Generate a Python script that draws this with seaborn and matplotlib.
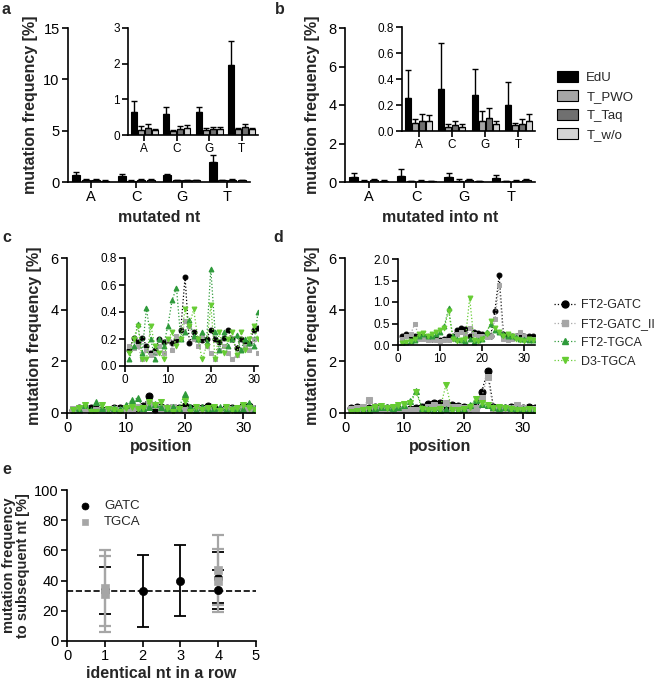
import numpy as np
import pandas as pd
import seaborn as sns
import matplotlib.pyplot as plt
from matplotlib.patches import Patch
from matplotlib.lines import Line2D

sns.set_style('ticks')
plt.rcParams['font.family'] = ['Liberation Sans', 'DejaVu Sans']
plt.rcParams['axes.linewidth'] = 1.2
plt.rcParams['xtick.major.width'] = 1.2
plt.rcParams['ytick.major.width'] = 1.2
plt.rcParams['xtick.major.size'] = 4
plt.rcParams['ytick.major.size'] = 4
plt.rcParams['xtick.color'] = 'black'
plt.rcParams['ytick.color'] = 'black'
plt.rcParams['axes.edgecolor'] = 'black'

# ---- panel a / b data ----
nts = ['A', 'C', 'G', 'T']
samples = ['EdU', 'T_PWO', 'T_Taq', 'T_w/o']
bar_colors = ['#000000', '#a6a6a6', '#707070', '#d4d4d4']

a_edu = [0.65, 0.58, 0.65, 1.95]
a_pwo = [0.15, 0.12, 0.15, 0.16]
a_taq = [0.20, 0.18, 0.16, 0.22]
a_wo = [0.14, 0.20, 0.16, 0.16]
a_edu_err = [0.30, 0.20, 0.13, 0.68]
a_pwo_err = [0.10, 0.03, 0.05, 0.05]
a_taq_err = [0.10, 0.07, 0.07, 0.08]
a_wo_err = [0.03, 0.07, 0.07, 0.05]

b_edu = [0.255, 0.32, 0.28, 0.20]
b_pwo = [0.065, 0.03, 0.075, 0.045]
b_taq = [0.08, 0.045, 0.10, 0.055]
b_wo = [0.075, 0.03, 0.055, 0.08]
b_edu_err = [0.215, 0.36, 0.20, 0.18]
b_pwo_err = [0.03, 0.025, 0.08, 0.02]
b_taq_err = [0.05, 0.035, 0.08, 0.035]
b_wo_err = [0.05, 0.025, 0.02, 0.05]

# ---- panel c / d data ----
positions = list(range(1, 33))
series = ['FT2-GATC', 'FT2-GATC_II', 'FT2-TGCA', 'D3-TGCA']
line_colors = ['#000000', '#a6a6a6', '#2e9a3a', '#66cc33']
line_markers = ['o', 's', '^', 'v']

c_gatc = [0.12, 0.21, 0.18, 0.21, 0.15, 0.10, 0.12, 0.20, 0.18, 0.19, 0.17, 0.19, 0.27, 0.66, 0.17, 0.25,
          0.20, 0.19, 0.20, 0.27, 0.20, 0.18, 0.21, 0.27, 0.20, 0.13, 0.20, 0.18, 0.17, 0.27, 0.28, 0.15]
c_gatc2 = [0.15, 0.13, 0.15, 0.05, 0.12, 0.08, 0.10, 0.15, 0.10, 0.20, 0.12, 0.22, 0.20, 0.33, 0.30, 0.20,
           0.15, 0.22, 0.15, 0.10, 0.05, 0.12, 0.15, 0.10, 0.05, 0.08, 0.12, 0.15, 0.12, 0.20, 0.10, 0.15]
c_ft2tgca = [0.05, 0.15, 0.31, 0.10, 0.43, 0.20, 0.05, 0.20, 0.15, 0.30, 0.49, 0.58, 0.20, 0.25, 0.34, 0.22,
             0.20, 0.25, 0.18, 0.72, 0.25, 0.12, 0.25, 0.15, 0.20, 0.23, 0.12, 0.20, 0.17, 0.15, 0.40, 0.15]
c_d3tgca = [0.10, 0.20, 0.30, 0.05, 0.05, 0.30, 0.15, 0.10, 0.05, 0.20, 0.25, 0.15, 0.20, 0.42, 0.30, 0.42,
            0.20, 0.05, 0.15, 0.45, 0.05, 0.25, 0.10, 0.20, 0.25, 0.08, 0.25, 0.12, 0.20, 0.30, 0.20, 0.12]

d_gatc = [0.20, 0.25, 0.20, 0.20, 0.22, 0.20, 0.18, 0.15, 0.15, 0.12, 0.15, 0.20, 0.22, 0.35, 0.40, 0.38,
          0.20, 0.30, 0.28, 0.25, 0.20, 0.22, 0.80, 1.62, 0.25, 0.20, 0.20, 0.22, 0.25, 0.20, 0.22, 0.20]
d_gatc2 = [0.15, 0.20, 0.25, 0.50, 0.15, 0.15, 0.12, 0.15, 0.12, 0.10, 0.12, 0.12, 0.15, 0.25, 0.30, 0.25,
           0.40, 0.25, 0.22, 0.20, 0.18, 0.20, 0.60, 1.40, 0.15, 0.12, 0.15, 0.20, 0.30, 0.20, 0.15, 0.15]
d_ft2tgca = [0.05, 0.08, 0.10, 0.12, 0.20, 0.25, 0.22, 0.20, 0.25, 0.30, 0.45, 0.85, 0.20, 0.15, 0.12, 0.10,
             0.15, 0.08, 0.12, 0.15, 0.30, 0.50, 0.35, 0.30, 0.25, 0.20, 0.22, 0.18, 0.15, 0.15, 0.12, 0.12]
d_d3tgca = [0.05, 0.08, 0.10, 0.15, 0.25, 0.28, 0.20, 0.25, 0.30, 0.35, 0.40, 0.80, 0.15, 0.10, 0.12, 0.15,
            1.10, 0.12, 0.10, 0.15, 0.25, 0.55, 0.40, 0.30, 0.20, 0.25, 0.20, 0.15, 0.12, 0.10, 0.15, 0.12]

# ---- panel e data ----
e_gatc_x = [1, 1, 2, 3, 4, 4]
e_gatc_y = [33, 33.5, 33, 40, 34, 42]
e_gatc_err = [23, 15.5, 24, 23.5, 13, 17]
e_tgca_x = [1, 1, 4, 4]
e_tgca_y = [35, 31, 47, 40]
e_tgca_err = [25, 25, 23, 21]
chance_level = 33.3

W, H = 658, 682
fig = plt.figure(figsize=(W / 100, H / 100), dpi=100)


def box(x0, y0, x1, y1):
    return [x0 / W, 1 - y1 / H, (x1 - x0) / W, (y1 - y0) / H]


def bar_panel(ax, vals, errs, ylim, yticks, fs, fmt=None):
    df = pd.DataFrame({'nt': nts * 4,
                       'sample': np.repeat(samples, 4),
                       'value': np.concatenate(vals)})
    sns.barplot(data=df, x='nt', y='value', hue='sample', palette=bar_colors,
                edgecolor='black', linewidth=0.8, errorbar=None, gap=0.15,
                width=0.85, ax=ax, legend=False)
    for cont, err in zip(ax.containers, errs):
        xs = [b.get_x() + b.get_width() / 2 for b in cont]
        hs = [b.get_height() for b in cont]
        ax.errorbar(xs, hs, yerr=[np.zeros(4), err], fmt='none', ecolor='black',
                    elinewidth=1.0, capsize=2, capthick=1.0, zorder=1)
    ax.set_xlim(-0.5, 3.5)
    ax.set_ylim(*ylim)
    ax.set_yticks(yticks)
    if fmt:
        ax.set_yticklabels([fmt % t for t in yticks])
    ax.set_xlabel('')
    ax.set_ylabel('')
    ax.tick_params(labelsize=fs, pad=2)
    sns.despine(ax=ax)


def line_panel(ax, data, ylim, yticks, xlim, fs, ms, fmt=None):
    for vals, col, mk in zip(data, line_colors, line_markers):
        sns.lineplot(x=positions, y=vals, color=col, marker=mk, markersize=ms,
                     markeredgecolor=col, linestyle=':', linewidth=0.9, ax=ax)
    ax.set_xlim(*xlim)
    ax.set_ylim(*ylim)
    ax.set_xticks([0, 10, 20, 30])
    ax.set_yticks(yticks)
    if fmt:
        ax.set_yticklabels([fmt % t for t in yticks])
    ax.set_xlabel('')
    ax.set_ylabel('')
    ax.tick_params(labelsize=fs, pad=2)
    sns.despine(ax=ax)


lab_kw = dict(fontsize=11.5, fontweight='bold')
main_fs = 10.5
inset_fs = 8.5

# panel a
ax_a = fig.add_axes(box(68, 28, 250, 182))
bar_panel(ax_a, [a_edu, a_pwo, a_taq, a_wo], [a_edu_err, a_pwo_err, a_taq_err, a_wo_err],
          (0, 15), [0, 5, 10, 15], main_fs)
ax_a.set_xlabel('mutated nt', labelpad=4, **lab_kw)
ax_a.set_ylabel('mutation frequency [%]', labelpad=4, **lab_kw)
ax_ai = fig.add_axes(box(128, 28, 258, 135))
bar_panel(ax_ai, [a_edu, a_pwo, a_taq, a_wo], [a_edu_err, a_pwo_err, a_taq_err, a_wo_err],
          (0, 3), [0, 1, 2, 3], inset_fs)

# panel b
ax_b = fig.add_axes(box(345, 28, 535, 182))
bar_panel(ax_b, [b_edu, b_pwo, b_taq, b_wo], [b_edu_err, b_pwo_err, b_taq_err, b_wo_err],
          (0, 8), [0, 2, 4, 6, 8], main_fs)
ax_b.set_xlabel('mutated into nt', labelpad=4, **lab_kw)
ax_b.set_ylabel('mutation frequency [%]', labelpad=6, **lab_kw)
ax_bi = fig.add_axes(box(402, 27, 535, 131))
bar_panel(ax_bi, [b_edu, b_pwo, b_taq, b_wo], [b_edu_err, b_pwo_err, b_taq_err, b_wo_err],
          (0, 0.8), [0, 0.2, 0.4, 0.6, 0.8], inset_fs, fmt='%.1f')

bar_handles = [Patch(facecolor=c, edgecolor='black', linewidth=0.8) for c in bar_colors]
fig.legend(bar_handles, samples, loc='upper left', bbox_to_anchor=(552 / W, 1 - 66 / H),
           frameon=False, fontsize=9.5, handlelength=1.6, handleheight=0.9,
           labelspacing=0.45, handletextpad=0.6, borderaxespad=0)

# panel c
ax_c = fig.add_axes(box(67, 258, 255, 413))
line_panel(ax_c, [c_gatc, c_gatc2, c_ft2tgca, c_d3tgca], (0, 6), [0, 2, 4, 6], (0, 32), main_fs, 5)
ax_c.set_xlabel('position', labelpad=3, **lab_kw)
ax_c.set_ylabel('mutation frequency [%]', labelpad=6, **lab_kw)
ax_ci = fig.add_axes(box(125, 258, 258, 366))
line_panel(ax_ci, [c_gatc, c_gatc2, c_ft2tgca, c_d3tgca], (0, 0.8), [0, 0.2, 0.4, 0.6, 0.8],
           (0, 31), inset_fs, 3.5, fmt='%.1f')

# panel d
ax_d = fig.add_axes(box(345, 258, 535, 413))
line_panel(ax_d, [d_gatc, d_gatc2, d_ft2tgca, d_d3tgca], (0, 6), [0, 2, 4, 6], (0, 32), main_fs, 5)
ax_d.set_xlabel('position', labelpad=3, **lab_kw)
ax_d.set_ylabel('mutation frequency [%]', labelpad=6, **lab_kw)
ax_di = fig.add_axes(box(398, 259, 535, 345))
line_panel(ax_di, [d_gatc, d_gatc2, d_ft2tgca, d_d3tgca], (0, 2.0), [0, 0.5, 1.0, 1.5, 2.0],
           (0, 32.5), inset_fs, 3.5, fmt='%.1f')

line_handles = [Line2D([], [], color=c, marker=m, linestyle=':', linewidth=0.9, markersize=5)
                for c, m in zip(line_colors, line_markers)]
fig.legend(line_handles, series, loc='upper left', bbox_to_anchor=(549 / W, 1 - 294 / H),
           frameon=False, fontsize=9, handlelength=1.7, labelspacing=0.55,
           handletextpad=0.5, borderaxespad=0)

# panel e
ax_e = fig.add_axes(box(67, 490, 256, 641))
ax_e.errorbar(e_gatc_x, e_gatc_y, yerr=e_gatc_err, fmt='none', ecolor='black',
              elinewidth=1.3, capsize=4, capthick=1.3, zorder=2)
ax_e.errorbar(e_tgca_x, e_tgca_y, yerr=e_tgca_err, fmt='none', ecolor='#a6a6a6',
              elinewidth=1.6, capsize=4, capthick=1.6, zorder=3)
sns.scatterplot(x=e_gatc_x, y=e_gatc_y, color='black', marker='o', s=35, edgecolor='black',
                ax=ax_e, zorder=4, label='GATC')
sns.scatterplot(x=e_tgca_x, y=e_tgca_y, color='#a6a6a6', marker='s', s=35, edgecolor='#a6a6a6',
                ax=ax_e, zorder=5, label='TGCA')
ax_e.axhline(chance_level, color='black', linestyle='--', linewidth=1.2, zorder=1)
ax_e.set_xlim(0, 5)
ax_e.set_ylim(0, 100)
ax_e.set_xticks([0, 1, 2, 3, 4, 5])
ax_e.set_yticks([0, 20, 40, 60, 80, 100])
ax_e.tick_params(labelsize=main_fs, pad=2)
ax_e.set_xlabel('identical nt in a row', labelpad=2, **lab_kw)
ax_e.set_ylabel('mutation frequency\nto subsequent nt [%]', labelpad=3, linespacing=0.95,
                fontsize=10.5, fontweight='bold')
ax_e.legend(loc='upper left', bbox_to_anchor=(0.0, 0.97), frameon=False, fontsize=9.5,
            handletextpad=0.4, labelspacing=0.3, borderaxespad=0, markerscale=0.85)
sns.despine(ax=ax_e)

for letter, (x, y) in zip('abcde', [(2, 10), (275, 10), (2, 238), (273, 238), (2, 470)]):
    fig.text(x / W, 1 - y / H, letter, fontsize=11.5, fontweight='bold', va='center')

fig.savefig('out.png', dpi=100)
